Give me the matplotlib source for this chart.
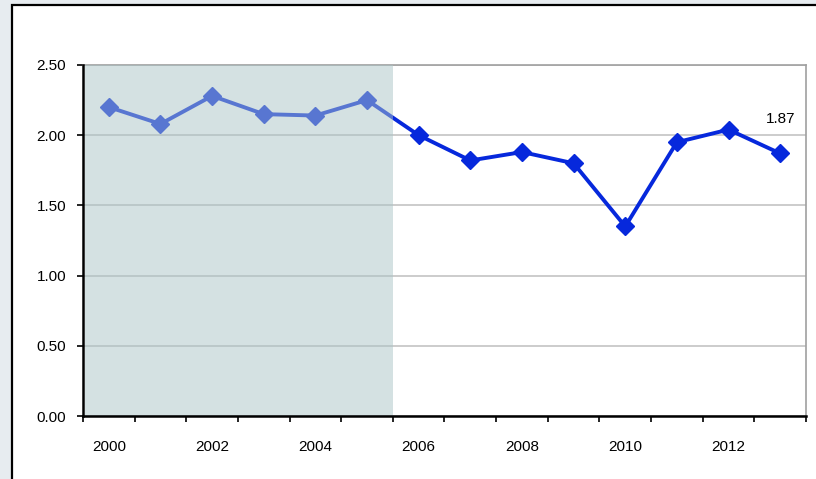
import numpy as np
import matplotlib
matplotlib.use('Agg')
import matplotlib.pyplot as plt
from matplotlib.patches import Rectangle

years = list(range(2000, 2014))
values = [2.20, 2.08, 2.28, 2.15, 2.14, 2.25, 2.00, 1.82, 1.88, 1.80, 1.35, 1.95, 2.04, 1.87]
shaded_years = 6  # 2000-2005 shaded
yticks = [0.0, 0.5, 1.0, 1.5, 2.0, 2.5]

plt.rcParams['font.family'] = ['Liberation Sans', 'DejaVu Sans']

fig = plt.figure(figsize=(8.16, 4.79), dpi=100)
fig.patch.set_facecolor('#e7ecf0')

# white panel with black frame
frame = Rectangle((12 / 816, -0.05), 1.0, 1 - 5 / 479 + 0.05, transform=fig.transFigure,
                  facecolor='white', edgecolor='black', linewidth=1.6, zorder=-10)
fig.patches.append(frame)

ax = fig.add_axes([83 / 816, 63 / 479, 723 / 816, 351 / 479])
ax.set_zorder(1)
x = np.arange(len(years))
ax.set_xlim(-0.5, len(years) - 0.5)
ax.set_ylim(0, 2.5)

ax.plot(x, values, color='#0628dc', linewidth=2.8, marker='D', markersize=9.5,
        zorder=3, clip_on=False)
ax.axvspan(-0.5 + 0.04, shaded_years - 0.5, facecolor='#abc5c7', alpha=0.5, zorder=4, linewidth=0)

ax.annotate('%.2f' % values[-1], (x[-1], values[-1]), xytext=(0, 22),
            textcoords='offset points', ha='center', fontsize=11)

ax.set_yticks(yticks)
ax.set_yticklabels(['%.2f' % v for v in yticks], fontsize=11)
ax.yaxis.grid(True, color='#c4c4c4', linewidth=1.2)
ax.set_axisbelow(True)

ax.set_xticks(np.arange(-0.5, len(years), 1.0))
ax.set_xticklabels([])
ax.set_xticks(x[::2], minor=True)
ax.set_xticklabels([str(y) for y in years[::2]], minor=True, fontsize=11)
ax.tick_params(axis='x', which='minor', length=0, pad=17)
ax.tick_params(axis='x', which='major', length=4, width=1.2, direction='out')
ax.tick_params(axis='y', length=4, width=1.2, direction='out', pad=8)

for s in ['top', 'right']:
    ax.spines[s].set_color('#a0a0a0')
    ax.spines[s].set_linewidth(1.2)
for s in ['left', 'bottom']:
    ax.spines[s].set_color('black')
    ax.spines[s].set_linewidth(1.8)
    ax.spines[s].set_zorder(6)

fig.savefig('out.png', dpi=100, facecolor=fig.get_facecolor())
